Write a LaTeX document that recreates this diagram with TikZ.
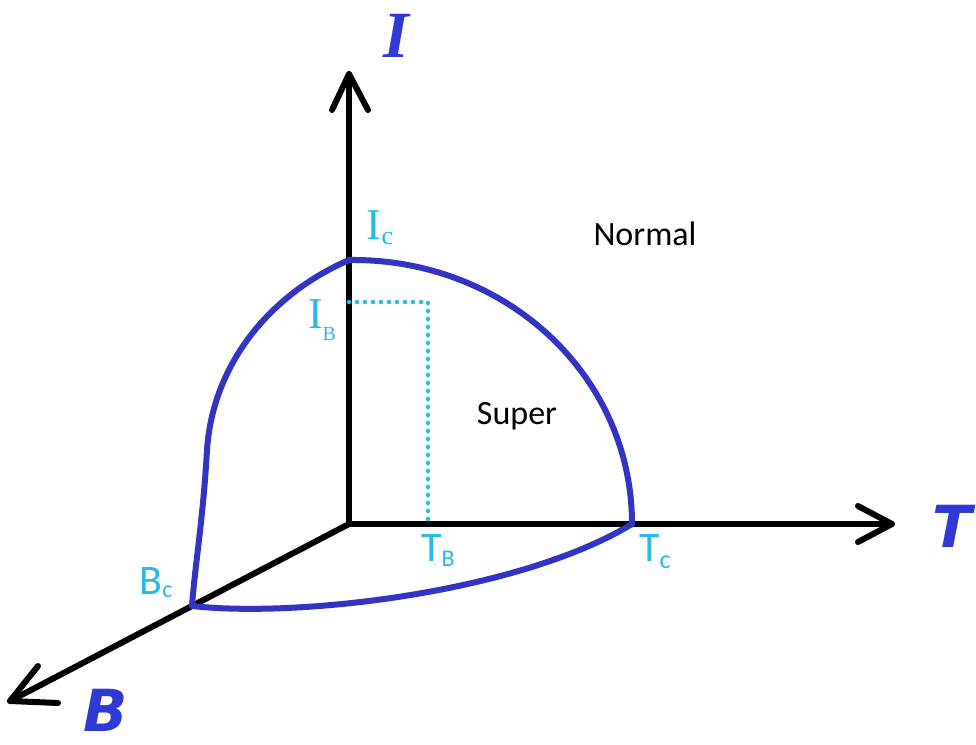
\documentclass[tikz,border=0pt]{standalone}
\usepackage{fontspec}
\setmainfont{Carlito}
\newfontfamily\handfont{DejaVu Sans}
\newfontfamily\serifhand{Liberation Serif}
\newfontfamily\thinfont{Carlito}
\definecolor{curveblue}{RGB}{52,52,196}
\definecolor{labblue}{RGB}{48,56,214}
\definecolor{lcyan}{RGB}{40,185,230}
\begin{document}
\begin{tikzpicture}[x=1pt,y=-1pt,
  axis/.style={line width=6pt,black,line cap=round,line join=round},
  phase/.style={line width=6pt,curveblue,line cap=round,line join=round},
  guide/.style={line width=4.5pt,lcyan,line cap=round,dash pattern=on 0pt off 8pt},
  axlab/.style={text=labblue,font=\handfont\bfseries\itshape\fontsize{58}{58}\selectfont,inner sep=0pt},
  clab/.style={text=lcyan,font=\thinfont\fontsize{42}{42}\selectfont,inner sep=0pt},
  plain/.style={text=black,font=\fontsize{34}{34}\selectfont,inner sep=0pt}]
\useasboundingbox (0,0) rectangle (976,744);
\coordinate (O) at (349,524);
\coordinate (Itip) at (349,74);
\coordinate (Ttip) at (892,524);
\coordinate (Btip) at (10,701);
\coordinate (Ic) at (349,260);
\coordinate (Tc) at (632,524);
\coordinate (Bc) at (192,606);
\coordinate (IB) at (349,302);
\coordinate (K) at (428,302);
\coordinate (TB) at (428,520);
% axes
\draw[axis] (O) -- (Itip);
\draw[axis] (332,110) -- (Itip) -- (368,110);
\draw[axis] (O) -- (Ttip);
\draw[axis] (858,506) -- (Ttip) -- (858,542);
\draw[axis] (O) -- (Btip);
\draw[axis] (38,666) -- (Btip) -- (58,703);
% guide
\draw[guide] (IB) -- (K) -- (TB);
% phase boundary
\draw[phase] (Ic) .. controls (505,258) and (632,375) .. (Tc);
\draw[phase] (Ic) .. controls (262,298) and (212,372) .. (207,450) .. controls (203,520) and (195,565) .. (Bc);
\draw[phase] (Bc) .. controls (300,618) and (520,592) .. (Tc);
% labels
\node[axlab,font=\serifhand\bfseries\itshape\fontsize{66}{66}\selectfont] (lI) at (396,36) {I};
\node[axlab] (lT) at (952,526) {T};
\node[axlab] (lB) at (106,710) {B};
\node[clab,font=\serifhand\fontsize{44}{44}\selectfont] (lIc) at (380,228) {I\raisebox{-5pt}{\fontsize{26}{26}\selectfont c}};
\node[clab,font=\serifhand\fontsize{44}{44}\selectfont] (lIB) at (322,320) {I\raisebox{-12pt}{\fontsize{20}{20}\selectfont B}};
\node[clab] (lTB) at (438,551) {T\raisebox{-5pt}{\fontsize{24}{24}\selectfont B}};
\node[clab] (lTc) at (655,552) {T\raisebox{-7pt}{\fontsize{26}{26}\selectfont c}};
\node[clab] (lBc) at (156,583) {B\raisebox{-3pt}{\fontsize{24}{24}\selectfont c}};
\node[plain] (normal) at (645,234) {Normal};
\node[plain] (super) at (517,416) {Super};
\end{tikzpicture}
\end{document}
